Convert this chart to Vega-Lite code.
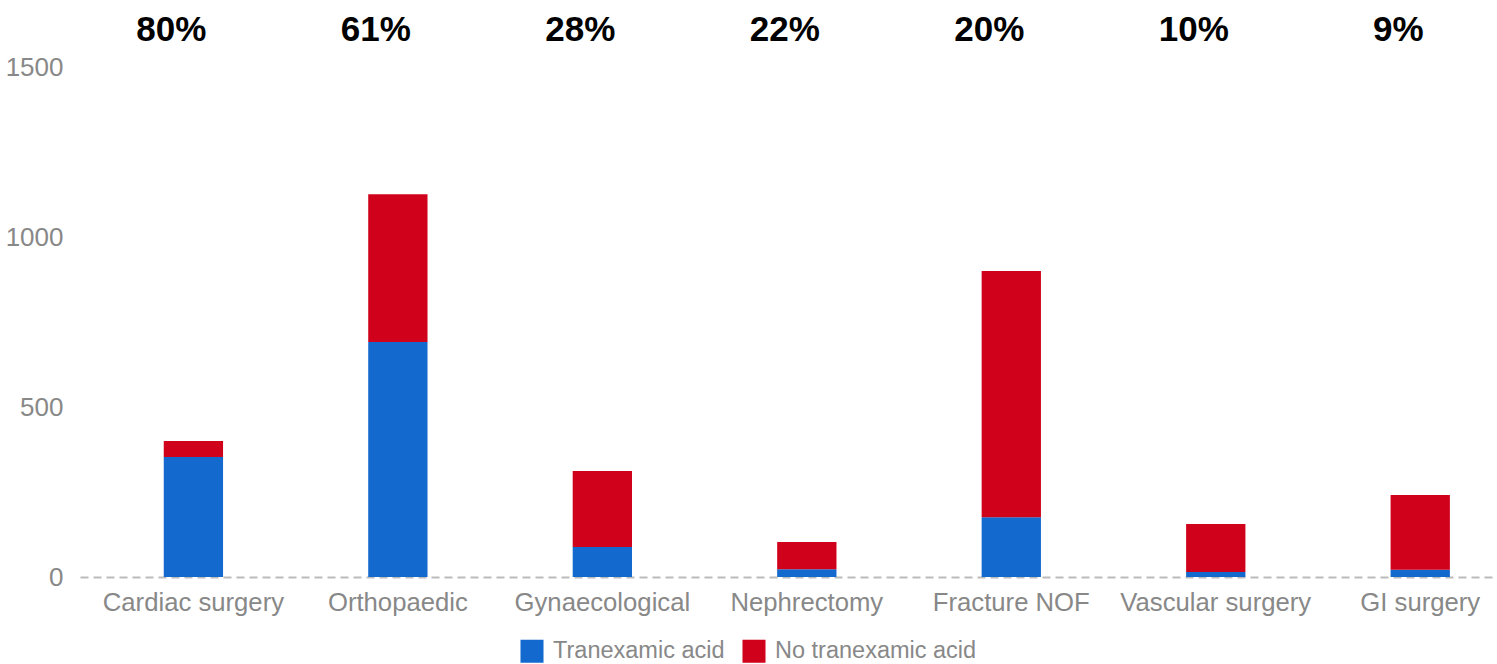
{
  "$schema": "https://vega.github.io/schema/vega-lite/v6.json",
  "autosize": "none",
  "width": 1417,
  "height": 510,
  "padding": {"left": 80, "top": 67, "right": 0, "bottom": 87},
  "background": "white",
  "config": {
    "view": {"stroke": null},
    "font": "Liberation Sans"
  },
  "datasets": {
    "bars": [
      {"surgery": "Cardiac surgery", "group": "Tranexamic acid", "count": 353},
      {"surgery": "Cardiac surgery", "group": "No tranexamic acid", "count": 47},
      {"surgery": "Orthopaedic", "group": "Tranexamic acid", "count": 691},
      {"surgery": "Orthopaedic", "group": "No tranexamic acid", "count": 435},
      {"surgery": "Gynaecological", "group": "Tranexamic acid", "count": 88},
      {"surgery": "Gynaecological", "group": "No tranexamic acid", "count": 224},
      {"surgery": "Nephrectomy", "group": "Tranexamic acid", "count": 23},
      {"surgery": "Nephrectomy", "group": "No tranexamic acid", "count": 80},
      {"surgery": "Fracture NOF", "group": "Tranexamic acid", "count": 176},
      {"surgery": "Fracture NOF", "group": "No tranexamic acid", "count": 724},
      {"surgery": "Vascular surgery", "group": "Tranexamic acid", "count": 15},
      {"surgery": "Vascular surgery", "group": "No tranexamic acid", "count": 141},
      {"surgery": "GI surgery", "group": "Tranexamic acid", "count": 21},
      {"surgery": "GI surgery", "group": "No tranexamic acid", "count": 220}
    ],
    "pcts": [
      {"surgery": "Cardiac surgery", "label": "80%"},
      {"surgery": "Orthopaedic", "label": "61%"},
      {"surgery": "Gynaecological", "label": "28%"},
      {"surgery": "Nephrectomy", "label": "22%"},
      {"surgery": "Fracture NOF", "label": "20%"},
      {"surgery": "Vascular surgery", "label": "10%"},
      {"surgery": "GI surgery", "label": "9%"}
    ]
  },
  "layer": [
    {
      "data": {"name": "bars"},
      "mark": {"type": "bar"},
      "encoding": {
        "x": {
          "field": "surgery",
          "type": "nominal",
          "sort": ["Cardiac surgery", "Orthopaedic", "Gynaecological", "Nephrectomy", "Fracture NOF", "Vascular surgery", "GI surgery"],
          "scale": {"paddingInner": 0.71, "paddingOuter": 0.32, "align": 0.64},
          "axis": {
            "title": null,
            "labelAngle": 0,
            "labelFontSize": 25.7,
            "labelColor": "#888888",
            "labelPadding": 13,
            "labelLimit": 0,
            "ticks": false,
            "domain": true,
            "domainColor": "#BBBBBB",
            "domainWidth": 2,
            "domainDash": [8, 5],
            "grid": false
          }
        },
        "y": {
          "field": "count",
          "type": "quantitative",
          "stack": "zero",
          "scale": {"domain": [0, 1500], "nice": false},
          "axis": {
            "title": null,
            "values": [0, 500, 1000, 1500],
            "format": "d",
            "labelFontSize": 26,
            "labelColor": "#888888",
            "labelPadding": 17,
            "ticks": false,
            "domain": false,
            "grid": false
          }
        },
        "color": {
          "field": "group",
          "type": "nominal",
          "scale": {"domain": ["Tranexamic acid", "No tranexamic acid"], "range": ["#1469CE", "#D0021B"]},
          "legend": {
            "title": null,
            "orient": "none",
            "direction": "horizontal",
            "legendX": 440,
            "legendY": 572,
            "symbolType": "square",
            "symbolSize": 530,
            "symbolStrokeWidth": 0,
            "labelFontSize": 23.5,
            "labelColor": "#888888",
            "labelOffset": 9,
            "labelLimit": 0,
            "columnPadding": 17
          }
        },
        "order": {"field": "group", "sort": "descending"}
      }
    },
    {
      "data": {"name": "pcts"},
      "mark": {"type": "text", "fontSize": 35, "fontWeight": "bold", "color": "#000000", "dy": -37, "dx": -22, "baseline": "middle", "align": "center"},
      "encoding": {
        "x": {"field": "surgery", "type": "nominal", "sort": ["Cardiac surgery", "Orthopaedic", "Gynaecological", "Nephrectomy", "Fracture NOF", "Vascular surgery", "GI surgery"]},
        "y": {"datum": 1500},
        "text": {"field": "label"}
      }
    }
  ]
}
